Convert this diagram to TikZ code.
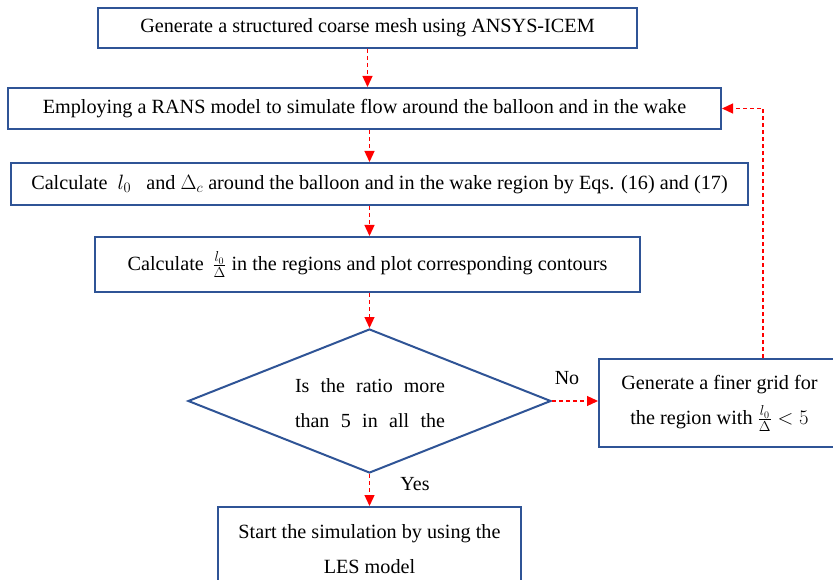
\documentclass[tikz,border=0pt]{standalone}
\usepackage{fontspec}
\setmainfont{Liberation Serif}
\usetikzlibrary{shapes.geometric,arrows.meta}
\definecolor{boxblue}{HTML}{2F5496}
\definecolor{arrred}{HTML}{FF0000}
\tikzset{
  stepbox/.style={draw=boxblue, line width=2pt, fill=white, inner sep=0pt, align=center,
    font=\fontsize{20.2}{35}\selectfont},
  flowarrow/.style={draw=arrred, line width=1.3pt, dash pattern=on 4pt off 3pt,
    -{Triangle[length=11pt,width=10pt]}},
  lbl/.style={inner sep=0pt, font=\fontsize{20}{23}\selectfont}
}
\begin{document}
\begin{tikzpicture}[x=1pt,y=-1pt]
\useasboundingbox (0,0) rectangle (833,580);
\node[stepbox, minimum width=539pt, minimum height=40pt] (gen) at (367.5,28)
  {Generate a structured coarse mesh using ANSYS-ICEM};
\node[stepbox, minimum width=713pt, minimum height=41pt] (rans) at (364.5,108.5)
  {Employing a RANS model to simulate flow around the balloon and in the wake};
\node[stepbox, minimum width=737pt, minimum height=42pt] (calc) at (379.5,184)
  {Calculate \ $l_0$ \ \ and $\Delta_c$ around the balloon and in the wake region by Eqs. (16) and (17)};
\node[stepbox, minimum width=545pt, minimum height=55pt] (ratio) at (367.5,264.5)
  {Calculate \,$\frac{l_0}{\Delta}$ in the regions and plot corresponding contours};
\node[draw=boxblue, line width=2pt, diamond, inner sep=0pt, minimum width=363pt, minimum height=144pt] (dia) at (369.5,401) {};
\node[lbl, align=center, font=\fontsize{20}{35}\selectfont] (diatext) at (370,403)
  {\makebox[150pt][s]{Is the ratio more}\\\makebox[150pt][s]{than 5 in all the}};
\node[stepbox, minimum width=241pt, minimum height=88pt] (fine) at (719.5,403)
  {Generate a finer grid for\\the region with $\frac{l_0}{\Delta} < 5$};
\node[stepbox, minimum width=303pt, minimum height=84pt] (les) at (369.5,549)
  {Start the simulation by using the\\LES model};
\coordinate (fb) at (763,108);
\draw[flowarrow] (gen.south) -- (gen.south |- rans.north);
\draw[flowarrow] (rans.south -| dia.north) -- (calc.north -| dia.north);
\draw[flowarrow] (calc.south -| dia.north) -- (ratio.north -| dia.north);
\draw[flowarrow] (ratio.south -| dia.north) -- (dia.north);
\draw[flowarrow] (dia.south) -- (les.north);
\draw[flowarrow] (dia.east) -- (dia.east -| fine.west);
\draw[flowarrow] (fine.north -| fb) |- (rans.east);
\node[lbl] (yes) at (415,484) {Yes};
\node[lbl] (no) at (567,378) {No};
\end{tikzpicture}
\end{document}
